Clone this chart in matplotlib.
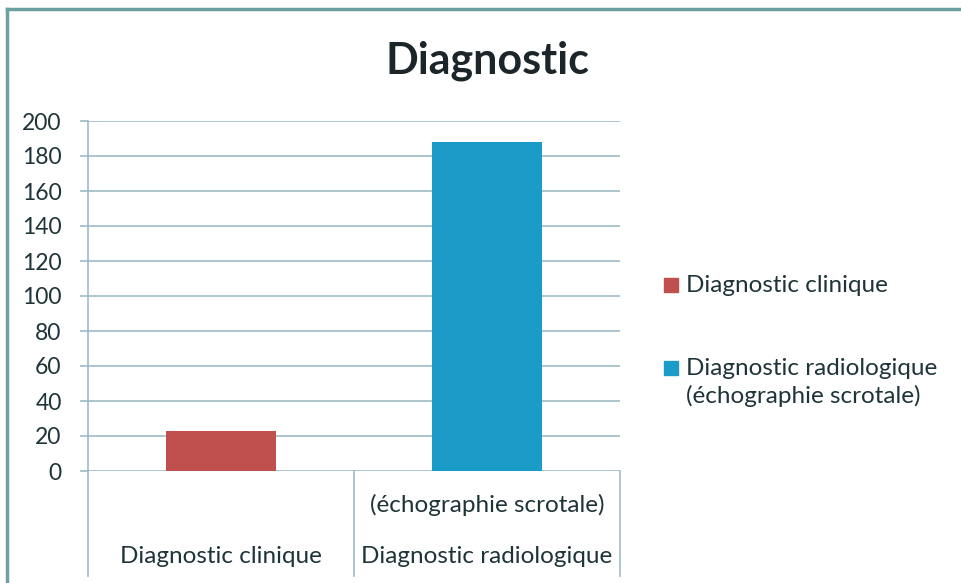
import matplotlib.pyplot as plt
from matplotlib.lines import Line2D
from matplotlib.patches import Rectangle
import matplotlib.transforms as mtransforms

plt.rcParams['font.family'] = ['Lato', 'DejaVu Sans']

# données
series = ['Diagnostic clinique', 'Diagnostic radiologique\n(échographie scrotale)']
axis_lines = [['Diagnostic clinique'], ['Diagnostic radiologique', '(échographie scrotale)']]
values = [23, 188]
colors = ['#C0504D', '#1B9CC8']
yticks = [0, 20, 40, 60, 80, 100, 120, 140, 160, 180, 200]

txt = '#1F3438'
grid = '#9DBBC6'

fig = plt.figure(figsize=(9.62, 5.83), dpi=100)
W, H = 962, 583
ax = fig.add_axes([88 / W, 1 - 471 / H, 532 / W, 350 / H])

x = list(range(len(values)))
ax.bar(x, values, width=0.41, color=colors, zorder=3)

ax.set_xlim(-0.5, len(values) - 0.5)
ax.set_ylim(0, 200)
ax.set_yticks(yticks)
ax.set_yticklabels([str(v) for v in yticks], fontsize=16.5, color=txt)
ax.yaxis.grid(True, color=grid, linewidth=1.2, zorder=0)
ax.set_xticks([])
ax.tick_params(axis='y', length=6, width=1.2, color=grid, pad=13)
for s in ['top', 'right', 'bottom']:
    ax.spines[s].set_visible(False)
ax.spines['left'].set_color(grid)
ax.spines['left'].set_linewidth(1.2)

# lignes de séparation des catégories sous l'axe
trans = mtransforms.blended_transform_factory(ax.transData, ax.transAxes)
for b in [i - 0.5 for i in range(len(values) + 1)]:
    ax.add_line(Line2D([b, b], [0, -0.3], transform=trans, color=grid,
                       linewidth=1.2, clip_on=False))

# étiquettes de catégories (niveau du bas en premier)
row_y = [-0.243, -0.097]
for i, lines in enumerate(axis_lines):
    for j, line in enumerate(lines):
        ax.text(i, row_y[j], line, transform=trans, ha='center', va='center',
                fontsize=17.5, color=txt)

fig.text(487 / W, 1 - 61 / H, 'Diagnostic', ha='center', va='center',
         fontsize=31, fontweight='bold', color='#1C262A')

# légende
leg_y = [285, 368]
for lab, c, yy in zip(series, colors, leg_y):
    fig.patches.append(Rectangle((664 / W, 1 - (yy + 7) / H), 14 / W, 14 / H,
                                 transform=fig.transFigure, color=c))
    fig.text(686 / W, 1 - (yy - 10) / H, lab, ha='left', va='top',
             fontsize=17.5, color=txt, linespacing=1.3)

# cadre
fig.add_artist(Line2D([7 / W, 7 / W], [0, 1 - 9 / H], color='#6E9FA3', linewidth=2.5))
fig.add_artist(Line2D([7 / W, 1], [1 - 9 / H, 1 - 9 / H], color='#6E9FA3', linewidth=2.5))

fig.savefig('out.png', dpi=100)
